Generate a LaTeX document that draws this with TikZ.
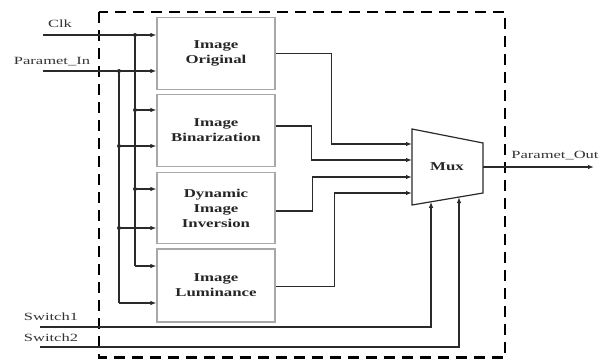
\documentclass[tikz,border=0pt]{standalone}
\usepackage{fontspec}
\setmainfont{Liberation Serif}
\newfontfamily\blkfont[FakeStretch=1.4]{Liberation Serif}
\newfontfamily\lblfont[FakeStretch=1.5]{Liberation Serif}
\usetikzlibrary{arrows.meta,calc}
\definecolor{wirec}{HTML}{2A2A2A}
\definecolor{boxc}{HTML}{A8A8A8}
\begin{document}
\begin{tikzpicture}[x=1pt,y=-1pt,
  blk/.style={draw=boxc, line width=1.2pt, minimum width=118pt, minimum height=72pt,
    inner sep=0pt, align=center, text=black!85,
    font=\blkfont\bfseries\fontsize{12}{15}\selectfont},
  wire/.style={draw=wirec, line width=1.2pt},
  arr/.style={wire, -{Latex[length=6pt,width=4.5pt]}},
  lbl/.style={inner sep=0pt, text=black!80, font=\lblfont\fontsize{11}{13}\selectfont},
  dot/.style={circle, fill=wirec, inner sep=0pt, minimum size=4pt},
  frame/.style={draw=black, line width=2.6pt, dash pattern=on 11pt off 7pt}]
\useasboundingbox (0,0) rectangle (610,359);
% outer dashed frame
\draw[frame] (99,12) rectangle (505,357.5);
% blocks
\node[blk] (b1) at (216,53.5) {Image\\Original};
\node[blk] (b2) at (216,130.5) {Image\\Binarization};
\node[blk, minimum height=71pt] (b3) at (216,208) {Dynamic\\Image\\Inversion};
\node[blk, minimum height=73pt] (b4) at (216,285.5) {Image\\Luminance};
% input labels
\node[lbl] (lclk) at (60,24) {Clk};
\node[lbl] (lpin) at (52,62) {Paramet\_In};
\node[lbl] (ls1) at (51,317) {Switch1};
\node[lbl] (ls2) at (51,338) {Switch2};
% input coordinates
\coordinate (clk) at (43,35);
\coordinate (pin) at (43,71);
\coordinate (ct) at (135,35);
\coordinate (pt) at (119,71);
\coordinate (c2) at (135,110);
\coordinate (c3) at (135,189);
\coordinate (c4) at (135,266);
\coordinate (p2) at (119,146);
\coordinate (p3) at (119,228);
\coordinate (p4) at (119,303);
% input wires
\draw[arr] (clk) -- (clk -| b1.west);
\draw[arr] (pin) -- (pin -| b1.west);
\draw[wire] (ct) -- (c4);
\draw[wire] (pt) -- (p4);
\draw[arr] (c2) -- (c2 -| b2.west);
\draw[arr] (c3) -- (c3 -| b3.west);
\draw[arr] (c4) -- (c4 -| b4.west);
\draw[arr] (p2) -- (p2 -| b2.west);
\draw[arr] (p3) -- (p3 -| b3.west);
\draw[arr] (p4) -- (p4 -| b4.west);
\foreach \p in {ct,pt,c2,c3,p2,p3} \node[dot] at (\p) {};
% mux
\coordinate (mtl) at (412,129);
\coordinate (mtr) at (483,143);
\coordinate (mbr) at (483,193);
\coordinate (mbl) at (412,205);
\draw[wire, fill=white] (mtl) -- (mtr) -- (mbr) -- (mbl) -- cycle;
\node[font=\blkfont\bfseries\fontsize{12}{15}\selectfont, text=black!85] (mux) at (447,167) {Mux};
\coordinate (m1) at (412,144);
\coordinate (m2) at (412,160);
\coordinate (m3) at (412,177);
\coordinate (m4) at (412,193);
\coordinate (mout) at (483,167);
\coordinate (out) at (594,167);
\coordinate (s1) at (40,327);
\coordinate (s2) at (40,347);
\coordinate (s1e) at ($(mbl)!0.268!(mbr)$);
\coordinate (s2e) at ($(mbl)!0.662!(mbr)$);
% block outputs to mux
\draw[arr] (b1.east) -- ++(56,0) |- (m1);
\draw[arr] ([yshift=4.5pt]b2.east) -- ++(36,0) |- (m2);
\draw[arr] ([yshift=-3pt]b3.east) -- ++(37,0) |- (m3);
\draw[arr] ([yshift=-1pt]b4.east) -- ++(59,0) |- (m4);
% switches
\draw[arr] (s1) -| (s1e);
\draw[arr] (s2) -| (s2e);
% output
\draw[arr] (mout) -- (out);
\node[lbl] (lout) at (555,156) {Paramet\_Out};
\end{tikzpicture}
\end{document}
